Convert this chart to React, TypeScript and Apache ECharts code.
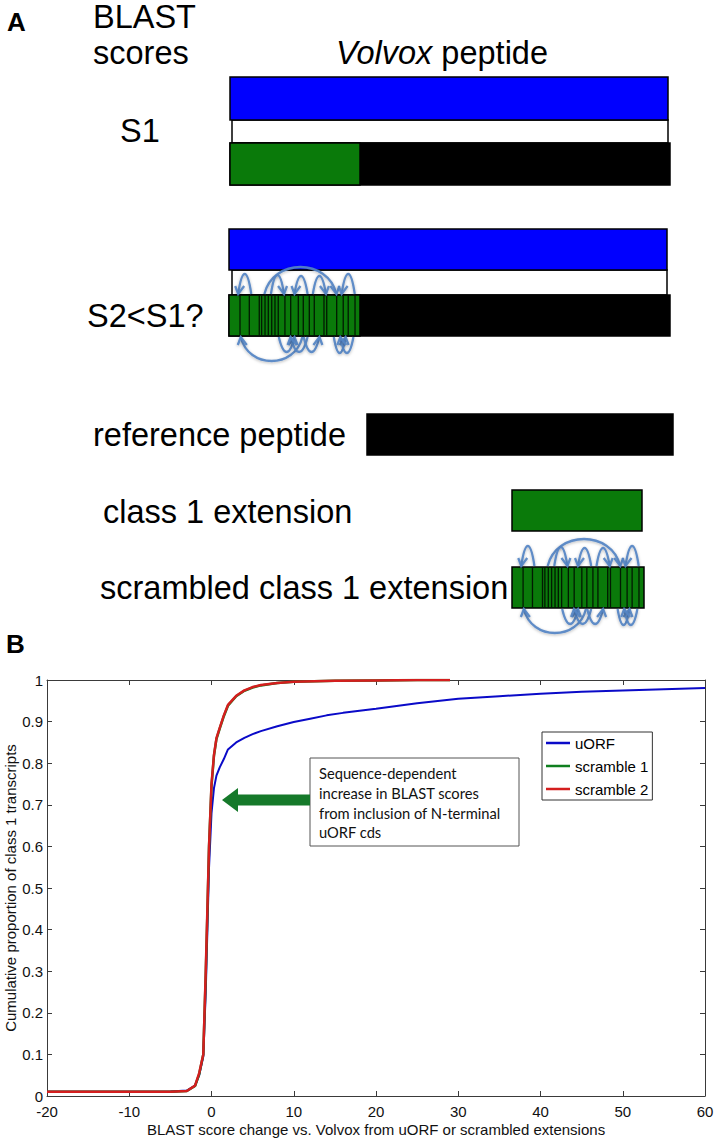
import React, { useEffect, useRef } from 'react';
import * as echarts from 'echarts';

// ---------- Panel B data ----------
const seriesNames = ['uORF', 'scramble 1', 'scramble 2'];
const seriesColors = ['#0a0ac8', '#0f7f1f', '#d41e1e'];

const uorfX = [-20, -10, -5, -3, -2, -1.5, -1, -0.7, -0.5, -0.3, 0, 0.3, 0.6, 1, 1.5, 2, 3, 4, 5, 6, 8, 10, 12, 14, 16, 18, 20, 25, 30, 35, 40, 45, 50, 55, 60];
const uorfY = [0.01, 0.01, 0.011, 0.013, 0.025, 0.05, 0.095, 0.25, 0.4, 0.55, 0.68, 0.74, 0.77, 0.79, 0.81, 0.833, 0.85, 0.861, 0.87, 0.877, 0.889, 0.899, 0.907, 0.915, 0.921, 0.926, 0.931, 0.944, 0.955, 0.961, 0.967, 0.972, 0.975, 0.978, 0.981];

const scr1X = [-20, -10, -5, -3, -2, -1.5, -1, -0.7, -0.5, -0.3, 0, 0.3, 0.6, 1, 1.5, 2, 3, 4, 5, 6, 8, 10, 15, 20, 25, 29];
const scr1Y = [0.01, 0.01, 0.01, 0.012, 0.024, 0.052, 0.1, 0.29, 0.44, 0.6, 0.745, 0.818, 0.858, 0.883, 0.913, 0.938, 0.961, 0.974, 0.982, 0.987, 0.993, 0.996, 0.998, 0.999, 1.0, 1.0];

const scr2X = [-20, -10, -5, -3, -2, -1.5, -1, -0.7, -0.5, -0.3, 0, 0.3, 0.6, 1, 1.5, 2, 3, 4, 5, 6, 8, 10, 15, 20, 25, 29];
const scr2Y = [0.01, 0.01, 0.01, 0.012, 0.025, 0.055, 0.1, 0.3, 0.45, 0.6, 0.75, 0.82, 0.86, 0.885, 0.915, 0.94, 0.962, 0.975, 0.983, 0.988, 0.993, 0.996, 0.998, 0.999, 1.0, 1.0];

const xAxisTitle = 'BLAST score change vs. Volvox from uORF or scrambled extensions';
const yAxisTitle = 'Cumulative proportion of class 1 transcripts';
const annotationLines = ['Sequence-dependent', 'increase in BLAST scores', 'from inclusion of N-terminal', 'uORF cds'];

// ---------- Panel A schematic ----------
const stripeFractions = [0.084, 0.155, 0.231, 0.249, 0.275, 0.3, 0.326, 0.351, 0.376, 0.427, 0.471, 0.529, 0.567, 0.613, 0.651, 0.725, 0.746, 0.822, 0.872, 0.91, 0.962];
// [start fraction, end fraction, arch height px, head at end]
const arcsAbove: [number, number, number, boolean][] = [
  [0.07, 0.17, 20, false],
  [0.27, 0.82, 27, true],
  [0.32, 0.42, 19, true],
  [0.5, 0.6, 18, false],
  [0.64, 0.74, 18, true],
  [0.86, 0.96, 20, false],
];
const arcsBelow: [number, number, number, boolean][] = [
  [0.09, 0.56, 24, false],
  [0.38, 0.5, 15, true],
  [0.47, 0.6, 15, false],
  [0.57, 0.69, 15, true],
  [0.8, 0.89, 16, true],
  [0.85, 0.95, 16, false],
];

const FONT = 'Liberation Sans';
const ARROW = 'rgba(84,132,196,0.92)';
const AFS = 32.5;

function text(x: number, y: number, t: string, size: number, extra: any = {}) {
  return {
    type: 'text',
    x,
    y,
    z: 50,
    style: {
      text: t,
      fontSize: size,
      fontFamily: extra.family || FONT,
      fontWeight: extra.bold ? 'bold' : 'normal',
      fill: '#000',
      align: extra.align || 'left',
      textAlign: extra.align || 'left',
      verticalAlign: 'middle',
      textVerticalAlign: 'middle',
      rich: extra.rich,
    },
  };
}

function rect(x: number, y: number, w: number, h: number, fill: string, lw = 1.5) {
  return {
    type: 'rect',
    z: 10,
    shape: { x, y, width: w, height: h },
    style: { fill, stroke: '#000', lineWidth: lw },
  };
}

function scrambled(x: number, y: number, w: number, h: number) {
  const els: any[] = [rect(x, y, w, h, '#0a7a0a')];
  stripeFractions.forEach((f) => {
    els.push({
      type: 'line',
      z: 11,
      shape: { x1: x + f * w, y1: y, x2: x + f * w, y2: y + h },
      style: { stroke: '#021a02', lineWidth: 1.3 },
    });
  });
  const addArcs = (list: [number, number, number, boolean][], yEdge: number, dir: number) => {
    list.forEach(([a, b, hh, headEnd]) => {
      const xa = x + a * w;
      const xb = x + b * w;
      const k = (hh * 4) / 3;
      const inset = (xb - xa) * (xb - xa > 30 ? 0.12 : 0.3);
      const sty = { stroke: ARROW, lineWidth: 2.3, fill: 'none', shadowBlur: 3, shadowColor: 'rgba(0,0,0,0.3)', shadowOffsetY: 1 };
      els.push({
        type: 'bezierCurve',
        z: 20,
        shape: { x1: xa, y1: yEdge, x2: xb, y2: yEdge, cpx1: xa + inset, cpy1: yEdge + dir * k, cpx2: xb - inset, cpy2: yEdge + dir * k },
        style: sty,
      });
      const hx = headEnd ? xb : xa;
      const s = headEnd ? -1 : 1;
      els.push({
        type: 'polyline',
        z: 20,
        shape: { points: [[hx - 4.5 + s * 1.5, yEdge + dir * 8], [hx, yEdge], [hx + 4.5 + s * 1.5, yEdge + dir * 8]] },
        style: sty,
      });
    });
  };
  addArcs(arcsAbove, y - 1, -1);
  addArcs(arcsBelow, y + h + 1, 1);
  return els;
}

function buildPanelA() {
  const els: any[] = [];
  els.push(text(7, 22, 'A', 26, { bold: true }));
  els.push(text(93, 17, 'BLAST', AFS));
  els.push(text(93, 53, 'scores', AFS));
  els.push(
    text(442, 53, '{i|Volvox} peptide', AFS, {
      align: 'center',
      rich: { i: { fontStyle: 'italic', fontSize: AFS, fontFamily: FONT } },
    })
  );
  // group 1
  els.push(rect(232, 120, 436, 23, '#ffffff'));
  els.push(rect(230, 77, 438, 43, '#0000ff'));
  els.push(rect(230, 143, 440, 42, '#000000'));
  els.push(rect(230, 143, 130, 42, '#0a7a0a'));
  els.push(text(120, 131, 'S1', AFS));
  // group 2
  els.push(rect(232, 270, 435, 25, '#ffffff'));
  els.push(rect(229, 229, 438, 41, '#0000ff'));
  els.push(rect(229, 295, 441, 41, '#000000'));
  scrambled(229, 295, 131, 41).forEach((e) => els.push(e));
  els.push(text(87, 316, 'S2<S1?', AFS));
  // schematic key
  els.push(text(93, 435, 'reference peptide', AFS));
  els.push(rect(367, 414, 306, 41, '#000000'));
  els.push(text(103, 512, 'class 1 extension', AFS));
  els.push(rect(512, 490, 130, 41, '#0a7a0a'));
  els.push(text(100, 588, 'scrambled class 1 extension', AFS));
  scrambled(512, 567, 132, 41).forEach((e) => els.push(e));
  els.push(text(6, 644, 'B', 26, { bold: true }));
  return els;
}

function buildAnnotation() {
  const els: any[] = [];
  els.push({
    type: 'rect',
    z: 100,
    shape: { x: 310, y: 758, width: 209, height: 88 },
    style: { fill: '#fff', stroke: '#555', lineWidth: 1 },
  });
  annotationLines.forEach((l, i) => {
    els.push({
      type: 'text',
      z: 101,
      x: 319,
      y: 773 + i * 19.8,
      style: { text: l, fontSize: 14.7, fontFamily: 'Lato', fill: '#111', align: 'left', textAlign: 'left', verticalAlign: 'middle', textVerticalAlign: 'middle' },
    });
  });
  els.push({
    type: 'polygon',
    z: 100,
    shape: {
      points: [
        [222, 800],
        [238, 788],
        [238, 794.5],
        [310, 794.5],
        [310, 805.5],
        [238, 805.5],
        [238, 812],
      ],
    },
    style: { fill: '#15792a' },
  });
  return els;
}

const axisColor = '#3a3a3a';

export default function App() {
  const ref = useRef<HTMLDivElement>(null);
  useEffect(() => {
    if (!ref.current) return;
    const chart = echarts.init(ref.current, undefined, { renderer: 'svg' });
    const xBase = {
      type: 'value',
      min: -20,
      max: 60,
      interval: 10,
      splitLine: { show: false },
      axisLine: { show: true, onZero: false, lineStyle: { color: axisColor, width: 1 } },
      axisTick: { show: true, inside: true, length: 5, lineStyle: { color: axisColor } },
    };
    const yBase = {
      type: 'value',
      min: 0,
      max: 1,
      interval: 0.1,
      splitLine: { show: false },
      axisLine: { show: true, onZero: false, lineStyle: { color: axisColor, width: 1 } },
      axisTick: { show: true, inside: true, length: 5, lineStyle: { color: axisColor } },
    };
    const mk = (xs: number[], ys: number[]) => xs.map((x, i) => [x, ys[i]]);
    const option: any = {
      animation: false,
      backgroundColor: '#ffffff',
      textStyle: { fontFamily: FONT },
      grid: { left: 47, right: 10, top: 680, height: 416, containLabel: false, outerBoundsMode: 'none' },
      xAxis: [
        {
          ...xBase,
          position: 'bottom',
          axisLabel: { fontSize: 15, color: '#111', margin: 8, fontFamily: FONT },
          name: xAxisTitle,
          nameLocation: 'middle',
          nameGap: 26,
          nameMoveOverlap: false,
          nameTextStyle: { fontSize: 15, color: '#111', fontFamily: FONT },
        },
        { ...xBase, position: 'top', axisLabel: { show: false } },
      ],
      yAxis: [
        {
          ...yBase,
          position: 'left',
          axisLabel: { fontSize: 15, color: '#111', margin: 4, fontFamily: FONT, verticalAlign: 'middle' },
          name: yAxisTitle,
          nameLocation: 'middle',
          nameGap: 29.5,
          nameMoveOverlap: false,
          nameTextStyle: { fontSize: 15, color: '#111', fontFamily: FONT },
        },
        { ...yBase, position: 'right', axisLabel: { show: false } },
      ],
      legend: {
        orient: 'vertical',
        left: 542,
        top: 732,
        padding: [3.5, 4, 3.5, 4],
        itemGap: 8,
        itemWidth: 24,
        itemHeight: 2.5,
        icon: 'rect',
        borderColor: '#333',
        borderWidth: 1,
        backgroundColor: '#fff',
        textStyle: { fontSize: 15, color: '#000', fontFamily: FONT },
        data: seriesNames,
      },
      series: [
        { name: seriesNames[0], type: 'line', data: mk(uorfX, uorfY), showSymbol: false, symbol: 'none', lineStyle: { width: 2, color: seriesColors[0] }, itemStyle: { color: seriesColors[0] }, z: 3 },
        { name: seriesNames[1], type: 'line', data: mk(scr1X, scr1Y), showSymbol: false, symbol: 'none', lineStyle: { width: 2.5, color: seriesColors[1] }, itemStyle: { color: seriesColors[1] }, z: 4 },
        { name: seriesNames[2], type: 'line', data: mk(scr2X, scr2Y), showSymbol: false, symbol: 'none', lineStyle: { width: 2.5, color: seriesColors[2] }, itemStyle: { color: seriesColors[2] }, z: 5 },
      ],
      graphic: [...buildPanelA(), ...buildAnnotation()],
    };
    chart.setOption(option);
    return () => chart.dispose();
  }, []);
  return <div ref={ref} style={{ position: 'absolute', left: 0, top: 0, width: 715, height: 1141, background: '#fff' }} />;
}
